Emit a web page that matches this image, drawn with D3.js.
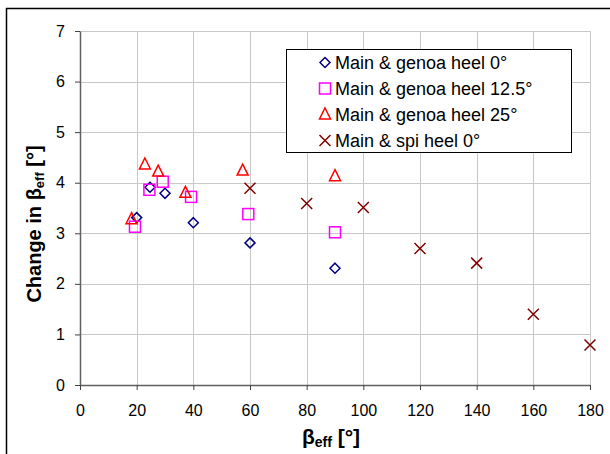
<!DOCTYPE html>
<html>
<head>
<meta charset="utf-8">
<script src="https://cdn.jsdelivr.net/npm/d3@7"></script>
<style>
  body { margin: 0; background: #fff; }
  text { font-family: "Liberation Sans", Arial, sans-serif; }
</style>
</head>
<body>
<script>
// chart data
var heel0X = [20, 24.7, 30, 40, 60, 90];
var heel0Y = [3.31, 3.91, 3.79, 3.21, 2.81, 2.31];
var heel125X = [19.4, 24.5, 29.2, 39.2, 59.4, 90];
var heel125Y = [3.13, 3.86, 4.02, 3.72, 3.38, 3.02];
var heel25X = [18.2, 22.9, 27.6, 37.2, 57.4, 90];
var heel25Y = [3.28, 4.36, 4.22, 3.80, 4.24, 4.13];
var spiX = [60, 80, 100, 120, 140, 160, 180];
var spiY = [3.89, 3.59, 3.51, 2.70, 2.41, 1.40, 0.79];
var xTicks = [0, 20, 40, 60, 80, 100, 120, 140, 160, 180];
var yTicks = [0, 1, 2, 3, 4, 5, 6, 7];
var seriesNames = ["Main & genoa heel 0°", "Main & genoa heel 12.5°", "Main & genoa heel 25°", "Main & spi heel 0°"];

var width = 610, height = 454;
// plot box (note: "top" is taken by window.top)
var plotLeft = 80, plotRight = 590, plotTop = 31, plotBottom = 385;

var svg = d3.select("body").append("svg")
  .attr("width", width)
  .attr("height", height);

// outer frame (runs off the right and bottom edge)
svg.append("path")
  .attr("d", "M6.5,460 L6.5,8.5 L616,8.5")
  .attr("fill", "none")
  .attr("stroke", "#000")
  .attr("stroke-width", 1.5);

var x = d3.scaleLinear().domain([0, 180]).range([plotLeft, plotRight]);
var y = d3.scaleLinear().domain([0, 7]).range([plotBottom, plotTop]);

// gridlines
var grid = svg.append("g");
grid.selectAll("line.gx")
  .data(xTicks.slice(1))
  .enter().append("line")
  .attr("x1", function (d) { return Math.round(x(d)) + 0.5; })
  .attr("x2", function (d) { return Math.round(x(d)) + 0.5; })
  .attr("y1", plotTop)
  .attr("y2", plotBottom)
  .attr("stroke", "#c8c8c8")
  .attr("stroke-width", 1);
grid.selectAll("line.gy")
  .data(yTicks.slice(1))
  .enter().append("line")
  .attr("x1", plotLeft)
  .attr("x2", plotRight)
  .attr("y1", function (d) { return Math.round(y(d)) + 0.5; })
  .attr("y2", function (d) { return Math.round(y(d)) + 0.5; })
  .attr("stroke", "#c8c8c8")
  .attr("stroke-width", 1);

// axes
var xAxis = svg.append("g")
  .attr("transform", "translate(0," + plotBottom + ")")
  .call(d3.axisBottom(x).tickValues(xTicks).tickFormat(d3.format("d"))
    .tickSize(5).tickPadding(15).tickSizeOuter(0));
var yAxis = svg.append("g")
  .attr("transform", "translate(" + plotLeft + ",0)")
  .call(d3.axisLeft(y).tickValues(yTicks).tickFormat(d3.format("d"))
    .tickSize(5).tickPadding(10).tickSizeOuter(0));
[xAxis, yAxis].forEach(function (ax) {
  ax.select(".domain").attr("stroke", "#606060").attr("stroke-width", 1.5);
  ax.selectAll(".tick line").attr("stroke", "#404040");
  ax.selectAll("text")
    .attr("font-family", "Liberation Sans, Arial, sans-serif")
    .attr("font-size", 16)
    .attr("fill", "#000");
});

// axis titles
var xt = svg.append("text")
  .attr("x", 331)
  .attr("y", 444)
  .attr("text-anchor", "middle")
  .attr("font-size", 21)
  .attr("font-weight", "bold");
xt.append("tspan").text("β");
xt.append("tspan").attr("font-size", 14).attr("dy", 3).text("eff");
xt.append("tspan").attr("dy", -3).text(" [°]");

var yt = svg.append("text")
  .attr("transform", "translate(41,224) rotate(-90)")
  .attr("text-anchor", "middle")
  .attr("font-size", 20)
  .attr("font-weight", "bold");
yt.append("tspan").text("Change in β");
yt.append("tspan").attr("font-size", 13).attr("dy", 3).text("eff");
yt.append("tspan").attr("dy", -3).text(" [°]");

// marker drawing
function marker(g, kind) {
  if (kind === 0) {
    g.append("path").attr("d", "M0,-5 L5,0 L0,5 L-5,0 Z")
      .attr("fill", "none").attr("stroke", "#000080").attr("stroke-width", 1.5);
  } else if (kind === 1) {
    g.append("rect").attr("x", -5.5).attr("y", -5.5).attr("width", 11).attr("height", 11)
      .attr("fill", "none").attr("stroke", "#ff00ff").attr("stroke-width", 1.5);
  } else if (kind === 2) {
    g.append("path").attr("d", "M0,-6.5 L5.5,4.5 L-5.5,4.5 Z")
      .attr("fill", "none").attr("stroke", "#ff0000").attr("stroke-width", 1.5);
  } else {
    g.append("path").attr("d", "M-5.5,-5.5 L5.5,5.5 M5.5,-5.5 L-5.5,5.5")
      .attr("fill", "none").attr("stroke", "#800000").attr("stroke-width", 1.5);
  }
}

function plotSeries(xs, ys, kind) {
  var pts = xs.map(function (d, i) { return [d, ys[i]]; });
  svg.append("g").selectAll("g")
    .data(pts)
    .enter().append("g")
    .attr("transform", function (d) { return "translate(" + x(d[0]) + "," + y(d[1]) + ")"; })
    .each(function () { marker(d3.select(this), kind); });
}
plotSeries(heel0X, heel0Y, 0);
plotSeries(heel125X, heel125Y, 1);
plotSeries(heel25X, heel25Y, 2);
plotSeries(spiX, spiY, 3);

// legend
var legend = svg.append("g");
legend.append("rect")
  .attr("x", 286.5).attr("y", 49.5).attr("width", 285).attr("height", 103)
  .attr("fill", "#fff").attr("stroke", "#000").attr("stroke-width", 1);
seriesNames.forEach(function (name, i) {
  var row = legend.append("g").attr("transform", "translate(0," + (62.5 + i * 26) + ")");
  var m = row.append("g").attr("transform", "translate(325,0)");
  marker(m, i);
  row.append("text")
    .attr("x", 335)
    .attr("y", 6.5)
    .attr("font-size", 18)
    .text(name);
});
</script>
</body>
</html>
